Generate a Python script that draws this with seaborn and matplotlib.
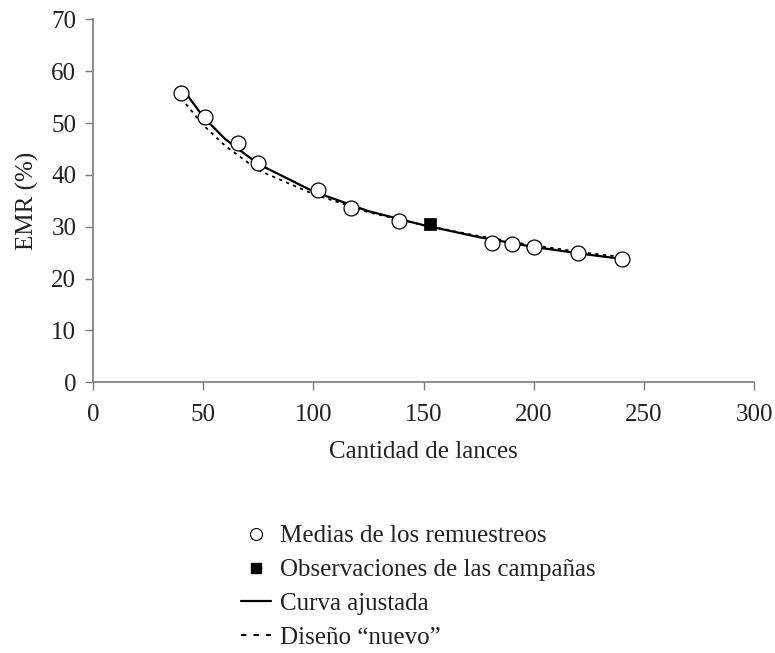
import numpy as np
import pandas as pd
import matplotlib
matplotlib.use('Agg')
import matplotlib.pyplot as plt
from matplotlib.lines import Line2D
import seaborn as sns

# =============================================================================
# Data
# =============================================================================

# resampling means
lances_medias = [40, 51, 66, 75, 102, 117, 139, 181, 190, 200, 220, 240]
emr_medias = [55.7, 51.1, 46.1, 42.2, 37.1, 33.7, 31.1, 26.8, 26.7, 26.0, 24.9, 23.7]

# survey observations
lances_obs = [153]
emr_obs = [30.5]

# fitted curve
lances_curva = [40, 50, 60, 75, 100, 125, 150, 175, 200, 225, 240]
emr_curva = [57.0, 51.2, 46.9, 42.1, 36.8, 33.0, 30.3, 28.0, 26.1, 24.6, 23.8]

# "new" design
lances_nuevo = [40, 50, 60, 75, 100, 125, 150, 175, 200, 225, 240]
emr_nuevo = [54.8, 49.6, 45.6, 40.9, 36.3, 32.8, 30.3, 28.2, 26.4, 24.9, 24.2]

x_ticks = [0, 50, 100, 150, 200, 250, 300]
y_ticks = [0, 10, 20, 30, 40, 50, 60, 70]

legend_labels = ['Medias de los remuestreos', 'Observaciones de las campañas',
                 'Curva ajustada', 'Diseño “nuevo”']

# =============================================================================
# Style
# =============================================================================

sns.set_theme(style="white")
plt.rcParams['font.family'] = ['Liberation Serif', 'DejaVu Serif']
FS = 18
TXT = '#222222'
AXIS_GREY = '#7a7a7a'
DOTS = (0, (1.8, 2.4))
DOTS_LEG = (0, (2.8, 3.6))

fig = plt.figure(figsize=(7.75, 6.53), dpi=100)
ax = fig.add_axes([0.12, 0.4146, 0.853, 0.5558])

df_curva = pd.DataFrame({'x': lances_curva, 'y': emr_curva})
df_nuevo = pd.DataFrame({'x': lances_nuevo, 'y': emr_nuevo})
df_medias = pd.DataFrame({'x': lances_medias, 'y': emr_medias})
df_obs = pd.DataFrame({'x': lances_obs, 'y': emr_obs})

sns.lineplot(data=df_nuevo, x='x', y='y', ax=ax, color='black',
             linewidth=1.3, linestyle=DOTS, zorder=2)
sns.lineplot(data=df_curva, x='x', y='y', ax=ax, color='black',
             linewidth=1.6, zorder=3)
sns.scatterplot(data=df_medias, x='x', y='y', ax=ax, marker='o', s=115,
                facecolor='white', edgecolor='black', linewidth=0.9, zorder=4)
sns.scatterplot(data=df_obs, x='x', y='y', ax=ax, marker='s', s=65,
                color='black', edgecolor='black', linewidth=0.5, zorder=5)

ax.set_xlim(0, 300)
ax.set_ylim(0, 70)
ax.set_xticks(x_ticks)
ax.set_yticks(y_ticks)
ax.tick_params(axis='both', which='major', labelsize=FS, direction='out',
               length=6, width=1, color=AXIS_GREY, labelcolor=TXT,
               bottom=True, left=True)
ax.tick_params(axis='x', pad=9.5)
ax.tick_params(axis='y', pad=6)
ax.set_xlabel('Cantidad de lances', fontsize=FS, color=TXT, labelpad=11)
ax.set_ylabel('EMR (%)', fontsize=FS, color=TXT, labelpad=9)

for side in ['top', 'right']:
    ax.spines[side].set_visible(False)
for side in ['left', 'bottom']:
    ax.spines[side].set_color(AXIS_GREY)
    ax.spines[side].set_linewidth(1.2)

# legend below the axes
handles = [
    Line2D([], [], marker='o', linestyle='none', markersize=8.6,
           markerfacecolor='white', markeredgecolor='black', markeredgewidth=0.8),
    Line2D([], [], marker='s', linestyle='none', markersize=7.8,
           markerfacecolor='black', markeredgecolor='black'),
    Line2D([], [], color='black', linewidth=1.6),
    Line2D([], [], color='black', linewidth=1.4, linestyle=DOTS_LEG),
]
fig.legend(handles, legend_labels, loc='upper left',
           bbox_to_anchor=(241 / 775, 1 - 525 / 653), frameon=False,
           fontsize=FS, handlelength=1.2, handletextpad=0.35,
           labelspacing=0.45, borderpad=0, borderaxespad=0,
           labelcolor=TXT)

plt.savefig('out.png', dpi=100)
plt.close()
